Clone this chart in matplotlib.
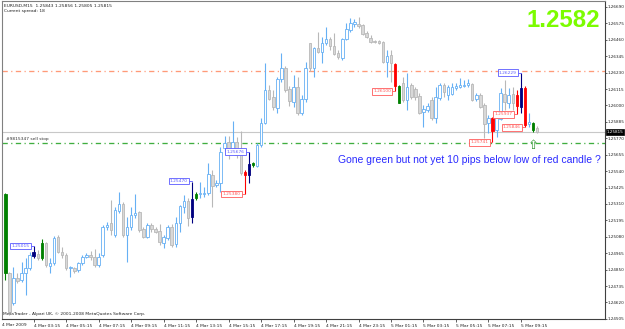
import matplotlib
matplotlib.use("Agg")
import matplotlib.pyplot as plt

# ---------------- data ----------------
symbol_line = "EURUSD,M15  1.25843 1.25856 1.25805 1.25815"
spread_line = "Current spread: 18"
copyright_line = "MetaTrader - Alpari UK, \u00a9 2001-2008 MetaQuotes Software Corp."

opens = [1.25381, 1.24828, 1.24618, 1.24793, 1.24779, 1.24828, 1.24863, 1.24947, 1.24961, 1.24933,
         1.25038, 1.24877, 1.24898, 1.25080, 1.24975, 1.24954, 1.24863, 1.24863, 1.24849, 1.24898,
         1.24940, 1.24954, 1.24940, 1.24884, 1.24954, 1.25150, 1.25178, 1.25094, 1.25262, 1.25311,
         1.25094, 1.25150, 1.25234, 1.25255, 1.25136, 1.25080, 1.25164, 1.25136, 1.25122, 1.25038,
         1.25073, 1.25150, 1.25031, 1.25178, 1.25290, 1.25332, 1.25220, 1.25353, 1.25381, 1.25381,
         1.25388, 1.25514, 1.25444, 1.25458, 1.25703, 1.25745, 1.25689, 1.25745, 1.25668, 1.25535,
         1.25514, 1.25584, 1.25577, 1.25724, 1.25878, 1.26109, 1.26060, 1.25983, 1.26186, 1.26263,
         1.26116, 1.26025, 1.26130, 1.25948, 1.26046, 1.26438, 1.26263, 1.26403, 1.26375, 1.26438,
         1.26466, 1.26417, 1.26368, 1.26333, 1.26466, 1.26529, 1.26571, 1.26571, 1.26564, 1.26508,
         1.26473, 1.26452, 1.26452, 1.26445, 1.26305, 1.26354, 1.26291, 1.26137, 1.26158, 1.26039,
         1.26144, 1.26116, 1.26067, 1.25955, 1.25969, 1.26039, 1.25913, 1.26053, 1.26144, 1.26074,
         1.26081, 1.26123, 1.26130, 1.26137, 1.26144, 1.26151, 1.26046, 1.26074, 1.26004, 1.25878,
         1.25913, 1.25829, 1.25906, 1.26081, 1.26018, 1.26081, 1.26074, 1.25990, 1.26123, 1.25871,
         1.25829, 1.25843]
highs = [1.25388, 1.24835, 1.24870, 1.24828, 1.24905, 1.24933, 1.24975, 1.25017, 1.24989, 1.25066,
         1.25045, 1.24933, 1.25087, 1.25094, 1.25010, 1.24968, 1.24877, 1.24870, 1.24905, 1.24954,
         1.24968, 1.24982, 1.24996, 1.24968, 1.25164, 1.25185, 1.25339, 1.25290, 1.25395, 1.25325,
         1.25220, 1.25290, 1.25381, 1.25262, 1.25150, 1.25178, 1.25178, 1.25150, 1.25171, 1.25094,
         1.25164, 1.25171, 1.25220, 1.25304, 1.25374, 1.25353, 1.25465, 1.25395, 1.25465, 1.25430,
         1.25598, 1.25549, 1.25479, 1.25710, 1.25787, 1.25787, 1.25892, 1.25780, 1.25822, 1.25549,
         1.25675, 1.25605, 1.25738, 1.25913, 1.26298, 1.26144, 1.26109, 1.26200, 1.26368, 1.26277,
         1.26137, 1.26214, 1.26200, 1.26074, 1.26305, 1.26438, 1.26410, 1.26515, 1.26480, 1.26550,
         1.26480, 1.26508, 1.26389, 1.26473, 1.26578, 1.26613, 1.26606, 1.26620, 1.26571, 1.26522,
         1.26494, 1.26459, 1.26459, 1.26452, 1.26389, 1.26389, 1.26298, 1.26144, 1.26200, 1.26228,
         1.26158, 1.26130, 1.26088, 1.26004, 1.26018, 1.26060, 1.26130, 1.26158, 1.26158, 1.26144,
         1.26158, 1.26158, 1.26193, 1.26179, 1.26186, 1.26158, 1.26088, 1.26088, 1.26018, 1.25934,
         1.25920, 1.25934, 1.26123, 1.26179, 1.26123, 1.26130, 1.26109, 1.26229, 1.26137, 1.25948,
         1.25885, 1.25856]
lows = [1.24779, 1.24534, 1.24604, 1.24758, 1.24765, 1.24674, 1.24849, 1.24933, 1.24919, 1.24919,
        1.24870, 1.24828, 1.24884, 1.24968, 1.24933, 1.24849, 1.24800, 1.24828, 1.24835, 1.24884,
        1.24933, 1.24919, 1.24870, 1.24870, 1.24940, 1.25129, 1.25094, 1.25080, 1.25248, 1.25080,
        1.24905, 1.25129, 1.25213, 1.25115, 1.25073, 1.25073, 1.25115, 1.25108, 1.25024, 1.25003,
        1.25059, 1.25010, 1.25010, 1.25115, 1.25248, 1.25157, 1.25178, 1.25339, 1.25353, 1.25360,
        1.25374, 1.25290, 1.25430, 1.25395, 1.25682, 1.25626, 1.25675, 1.25633, 1.25514, 1.25380,
        1.25458, 1.25570, 1.25570, 1.25710, 1.25871, 1.26039, 1.25969, 1.25948, 1.26165, 1.26095,
        1.25997, 1.25990, 1.25934, 1.25934, 1.26025, 1.26242, 1.26200, 1.26368, 1.26298, 1.26424,
        1.26389, 1.26354, 1.26326, 1.26319, 1.26459, 1.26515, 1.26550, 1.26543, 1.26494, 1.26473,
        1.26438, 1.26438, 1.26431, 1.26298, 1.26200, 1.26165, 1.26100, 1.26018, 1.26025, 1.25969,
        1.26046, 1.26039, 1.25941, 1.25850, 1.25955, 1.25899, 1.25878, 1.26039, 1.26060, 1.26039,
        1.26074, 1.26109, 1.26123, 1.26130, 1.26130, 1.26032, 1.26032, 1.25983, 1.25773, 1.25808,
        1.25741, 1.25780, 1.25899, 1.25969, 1.25983, 1.25969, 1.25937, 1.25948, 1.25846, 1.25850,
        1.25815, 1.25805]
closes = [1.24828, 1.24555, 1.24793, 1.24772, 1.24828, 1.24863, 1.24954, 1.24975, 1.24933, 1.25038,
          1.24884, 1.24898, 1.25073, 1.24975, 1.24954, 1.24863, 1.24870, 1.24842, 1.24898, 1.24940,
          1.24954, 1.24940, 1.24884, 1.24940, 1.25150, 1.25164, 1.25129, 1.25269, 1.25311, 1.25094,
          1.25150, 1.25234, 1.25248, 1.25129, 1.25080, 1.25164, 1.25136, 1.25115, 1.25045, 1.25080,
          1.25150, 1.25024, 1.25178, 1.25297, 1.25332, 1.25213, 1.25346, 1.25381, 1.25388, 1.25388,
          1.25521, 1.25437, 1.25458, 1.25675, 1.25738, 1.25696, 1.25745, 1.25654, 1.25528, 1.25514,
          1.25591, 1.25598, 1.25724, 1.25878, 1.26109, 1.26046, 1.25990, 1.26186, 1.26263, 1.26109,
          1.26032, 1.26130, 1.25948, 1.26046, 1.26263, 1.26263, 1.26403, 1.26375, 1.26438, 1.26466,
          1.26417, 1.26361, 1.26340, 1.26466, 1.26536, 1.26578, 1.26585, 1.26557, 1.26501, 1.26480,
          1.26445, 1.26445, 1.26438, 1.26305, 1.26347, 1.26298, 1.26137, 1.26018, 1.26039, 1.26130,
          1.26060, 1.26060, 1.25948, 1.25976, 1.25997, 1.25913, 1.26060, 1.26144, 1.26095, 1.26130,
          1.26130, 1.26137, 1.26144, 1.26144, 1.26158, 1.26039, 1.26074, 1.25990, 1.25871, 1.25913,
          1.25822, 1.25913, 1.26088, 1.26025, 1.26074, 1.26018, 1.25997, 1.26123, 1.25864, 1.25885,
          1.25878, 1.25815]

signal_bars = [0, 7, 9, 46, 47, 59, 60, 61, 96, 97, 120, 126, 127, 128, 130]
signal_kinds = ["green", "navy", "green", "navy", "green", "red", "navy", "green",
                "red", "green", "red", "red", "navy", "red", "green"]

label_bars = [7, 46, 60, 59, 96, 120, 126, 127, 128]
label_prices = [1.25015, 1.25470, 1.25676, 1.25380, 1.26100, 1.25741, 1.25937, 1.26229, 1.25846]
label_kinds = ["high", "high", "high", "low", "low", "low", "low", "high", "low"]

first_time_label = "4 Mar 2009"
time_tick_bars = [7, 15, 23, 31, 39, 47, 55, 63, 71, 79, 87, 95, 103, 111, 119, 127]
time_tick_labels = ["4 Mar 03:15", "4 Mar 05:15", "4 Mar 07:15", "4 Mar 09:15", "4 Mar 11:15",
                    "4 Mar 13:15", "4 Mar 15:15", "4 Mar 17:15", "4 Mar 19:15", "4 Mar 21:15",
                    "4 Mar 23:15", "5 Mar 01:15", "5 Mar 03:15", "5 Mar 05:15", "5 Mar 07:15",
                    "5 Mar 09:15"]

price_ticks = [1.24505, 1.24620, 1.24735, 1.24850, 1.24965, 1.25080, 1.25195, 1.25310, 1.25425,
               1.25540, 1.25655, 1.25770, 1.25885, 1.26000, 1.26115, 1.26230, 1.26345, 1.26460,
               1.26575, 1.26690]

bid_price = 1.25815
sell_stop_price = 1.25740
sell_stop_text = "#9815347 sell stop"
upper_level = 1.26242
arrow_bar = 130
arrow_price = 1.25722
big_price_text = "1.2582"
comment_text = "Gone green but not yet 10 pips below low of red candle ?"
comment_bar = 82
comment_price = 1.25618

# ---------------- style ----------------
W, H = 625, 329
BULL = "#66b0f4"
BEAR_FILL = "#d8d8d8"
BEAR_EDGE = "#b8b8b8"
SIG_COL = {"green": "#008000", "navy": "#000080", "red": "#ff0000"}
LBL_COL = {"high": "#5a5aff", "low": "#ff5a5a"}
TINY = 3.2
AXF = 3.0

fig = plt.figure(figsize=(W / 100, H / 100), dpi=100)
fig.patch.set_facecolor("white")
ax_bottom_px, ax_top_px = 319.03, 1.0
ax = fig.add_axes([2 / W, (H - ax_bottom_px) / H, 603 / W, (ax_bottom_px - ax_top_px) / H])
ax.set_facecolor("white")
ax.set_xlim(-0.81, -0.81 + 603 / 4.06)
ax.set_ylim(1.24504, 1.26732)

sig = dict(zip(signal_bars, signal_kinds))
for i, (o, h, l, c) in enumerate(zip(opens, highs, lows, closes)):
    if i in sig:
        face = edge = wick = SIG_COL[sig[i]]
    elif c >= o:
        face, edge, wick = "white", BULL, BULL
    else:
        face, edge, wick = BEAR_FILL, BEAR_EDGE, BEAR_EDGE
    ax.vlines(i, l, h, color=wick, lw=0.8, zorder=2)
    bottom = min(o, c)
    height = max(abs(c - o), 0.00002)
    ax.bar(i, height, 0.62, bottom, color=face, edgecolor=edge, linewidth=0.6, zorder=3)

# horizontal levels
dashdot = (0, (4.0, 2.6, 0.9, 2.6))
ax.axhline(upper_level, color="#ff9a78", lw=0.95, ls=dashdot, zorder=1)
ax.axhline(bid_price, color="#c8c8c8", lw=0.8, zorder=1)
ax.axhline(sell_stop_price, color="#3fae3f", lw=0.95, ls=dashdot, zorder=1)
ax.text(0.2, sell_stop_price + 0.00012, sell_stop_text, fontsize=TINY, color="#333333",
        ha="left", va="bottom", zorder=5)

# price labels of signal candles
for b, p, k in zip(label_bars, label_prices, label_kinds):
    col = LBL_COL[k]
    ax.text(b - 1.0, p, f"{p:.5f}", ha="right", va="center", fontsize=TINY, color=col,
            bbox=dict(boxstyle="square,pad=0.3", fc="white", ec=col, lw=0.6), zorder=6)
    ax.plot([b - 1.0, b], [p, p], color=col, lw=0.6, zorder=5)

# arrow
ax.text(arrow_bar, arrow_price, "\u21e7", fontsize=9.5, color="#3a9a3a", ha="center",
        va="center", family="DejaVu Sans", zorder=6)

# comment text
ax.text(comment_bar, comment_price, comment_text, fontsize=7.45, color="#2a2aff",
        family="Liberation Sans", ha="left", va="center", zorder=6)

# big price
ax.text(0.9917, 0.975, big_price_text, transform=ax.transAxes, fontsize=17.3, fontweight="bold",
        color="#7cfc00", family="Liberation Sans", ha="right", va="top", zorder=6)

# corner texts
ax.text(0.004, 0.992, symbol_line, transform=ax.transAxes, fontsize=TINY, color="#222222",
        ha="left", va="top")
ax.text(0.004, 0.976, spread_line, transform=ax.transAxes, fontsize=TINY, color="#222222",
        ha="left", va="top")
ax.text(0.002, 0.008, copyright_line, transform=ax.transAxes, fontsize=TINY, color="#222222",
        ha="left", va="bottom")

# axes / ticks
for s in ["left", "top"]:
    ax.spines[s].set_color("#808080")
    ax.spines[s].set_linewidth(0.8)
for s in ["right", "bottom"]:
    ax.spines[s].set_color("#404040")
    ax.spines[s].set_linewidth(0.8)

ax.yaxis.tick_right()
ax.set_yticks(price_ticks)
ax.set_yticklabels([f"{v:.5f}" for v in price_ticks])
ax.tick_params(axis="y", direction="out", length=1.5, width=0.5, pad=0.4, labelsize=AXF,
               colors="#222222")

ax.set_xticks(time_tick_bars)
ax.set_xticklabels(time_tick_labels, ha="left")
ax.tick_params(axis="x", direction="out", length=2, width=0.5, pad=1.5, labelsize=TINY,
               colors="#222222")
ax.text(-0.81, -0.012, first_time_label, transform=ax.get_xaxis_transform(), fontsize=TINY,
        color="#222222", ha="left", va="top", clip_on=False)

# current bid marker on price axis
ax.annotate(f"{bid_price:.5f}", xy=(1.0, bid_price), xycoords=("axes fraction", "data"),
            xytext=(1.3, 0), textcoords="offset points", fontsize=AXF, color="white",
            ha="left", va="center",
            bbox=dict(boxstyle="square,pad=0.15", fc="black", ec="black", lw=0.5),
            annotation_clip=False, zorder=10)

fig.savefig("out.png", dpi=100, facecolor="white")
